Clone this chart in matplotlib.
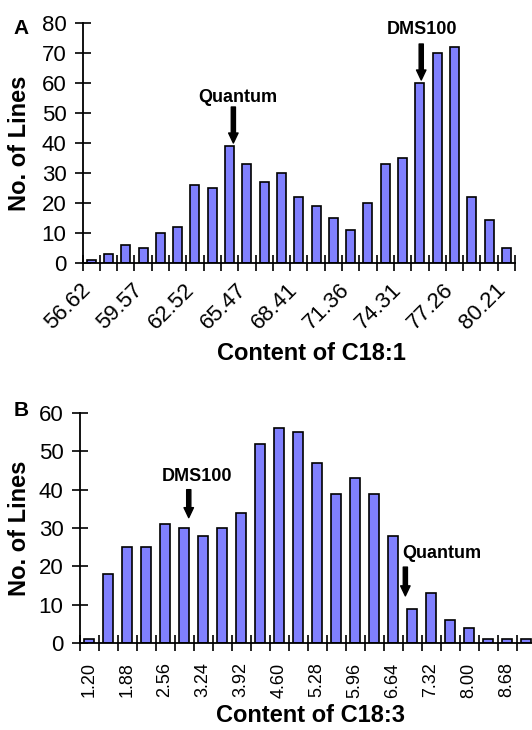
import matplotlib
matplotlib.use("Agg")
import matplotlib.pyplot as plt
from matplotlib.transforms import ScaledTranslation
import numpy as np

plt.rcParams['font.family'] = ['Liberation Sans', 'DejaVu Sans']

# ---- Data ----
c181_labels = ["56.62", "59.57", "62.52", "65.47", "68.41", "71.36", "74.31", "77.26", "80.21"]
c181_counts = [1, 3, 6, 5, 10, 12, 26, 25, 39, 33, 27, 30, 22, 19, 15, 11, 20, 33, 35, 60, 70, 72, 22, 14.5, 5]

c183_labels = ["1.20", "1.88", "2.56", "3.24", "3.92", "4.60", "5.28", "5.96", "6.64", "7.32", "8.00", "8.68"]
c183_counts = [1, 18, 25, 25, 31, 30, 28, 30, 34, 52, 56, 55, 47, 39, 43, 39, 28, 9, 13, 6, 4, 1, 1, 1]

W, H = 532, 730
fig = plt.figure(figsize=(W / 100, H / 100), dpi=100)


def rect(x0, x1, ytop, ybot):
    return [x0 / W, 1 - ybot / H, (x1 - x0) / W, (ybot - ytop) / H]


def fpos(x, y):
    return x / W, 1 - y / H


BAR_COLOR = '#8080FF'
YTICK_FS = 16
LABEL_FS = 17
ANN_FS = 13


def style_axis(ax, n, labels, step, ymax):
    ax.set_xlim(-0.5, n - 0.5)
    ax.set_ylim(0, ymax)
    for s in ['top', 'right']:
        ax.spines[s].set_visible(False)
    for s in ['left', 'bottom']:
        ax.spines[s].set_linewidth(1.3)
    ax.set_yticks(np.arange(0, ymax + 1, 10))
    ax.tick_params(axis='y', direction='inout', length=11, width=1.2, labelsize=YTICK_FS, pad=6)
    ax.set_xticks(np.arange(-0.5, n, 1.0), minor=True)
    ax.set_xticks(np.arange(0, len(labels) * step, step))
    ax.tick_params(axis='x', which='minor', direction='inout', length=11, width=1.2)


# ---- Panel A ----
axA = fig.add_axes(rect(82.5, 515, 23, 263))
xA = np.arange(len(c181_counts))
axA.bar(xA, c181_counts, width=0.52, color=BAR_COLOR, edgecolor='black', linewidth=1.2, zorder=2)
style_axis(axA, len(c181_counts), c181_labels, 3, 80)
axA.tick_params(axis='x', which='major', length=0, labelsize=16, pad=17)
axA.set_xticklabels(c181_labels, rotation=45, ha='right', va='center', rotation_mode='anchor')
for lab in axA.get_xticklabels():
    lab.set_transform(lab.get_transform() + ScaledTranslation(-4 / 100, 0, fig.dpi_scale_trans))

arrow_kw = dict(facecolor='black', edgecolor='black', width=3.0, headwidth=6.8, headlength=7.2, shrink=0)
axA.annotate('', xy=(8.22, 40), xytext=(8.22, 52), arrowprops=arrow_kw)
axA.text(8.47, 55.3, 'Quantum', ha='center', va='center', fontsize=ANN_FS, fontweight='bold')
axA.annotate('', xy=(19.08, 61), xytext=(19.08, 73), arrowprops=arrow_kw)
axA.text(19.1, 77.8, 'DMS100', ha='center', va='center', fontsize=ANN_FS, fontweight='bold')

fig.text(*fpos(20, 143), 'No. of Lines', rotation=90, ha='center', va='center',
         fontsize=LABEL_FS, fontweight='bold')
fig.text(*fpos(311, 354), 'Content of C18:1', ha='center', va='center',
         fontsize=LABEL_FS, fontweight='bold')
fig.text(*fpos(21, 29), 'A', ha='center', va='center', fontsize=15, fontweight='bold')

# ---- Panel B ----
axB = fig.add_axes(rect(79.5, 535.5, 413, 643))
xB = np.arange(len(c183_counts))
axB.bar(xB, c183_counts, width=0.49, color=BAR_COLOR, edgecolor='black', linewidth=1.2, zorder=2)
style_axis(axB, len(c183_counts), c183_labels, 2, 60)
axB.tick_params(axis='x', which='major', length=0, labelsize=13, pad=14)
axB.set_xticklabels(c183_labels, rotation=90, ha='center', va='top')

axB.annotate('', xy=(5.25, 32.7), xytext=(5.25, 40), arrowprops=arrow_kw)
axB.text(5.66, 43.4, 'DMS100', ha='center', va='center', fontsize=ANN_FS, fontweight='bold')
axB.annotate('', xy=(16.65, 12.3), xytext=(16.65, 19.8), arrowprops=arrow_kw)
axB.text(18.57, 23.3, 'Quantum', ha='center', va='center', fontsize=ANN_FS, fontweight='bold')

fig.text(*fpos(20, 528), 'No. of Lines', rotation=90, ha='center', va='center',
         fontsize=LABEL_FS, fontweight='bold')
fig.text(*fpos(310, 716), 'Content of C18:3', ha='center', va='center',
         fontsize=LABEL_FS, fontweight='bold')
fig.text(*fpos(21, 410), 'B', ha='center', va='center', fontsize=15, fontweight='bold')

fig.savefig('out.png', dpi=100)
